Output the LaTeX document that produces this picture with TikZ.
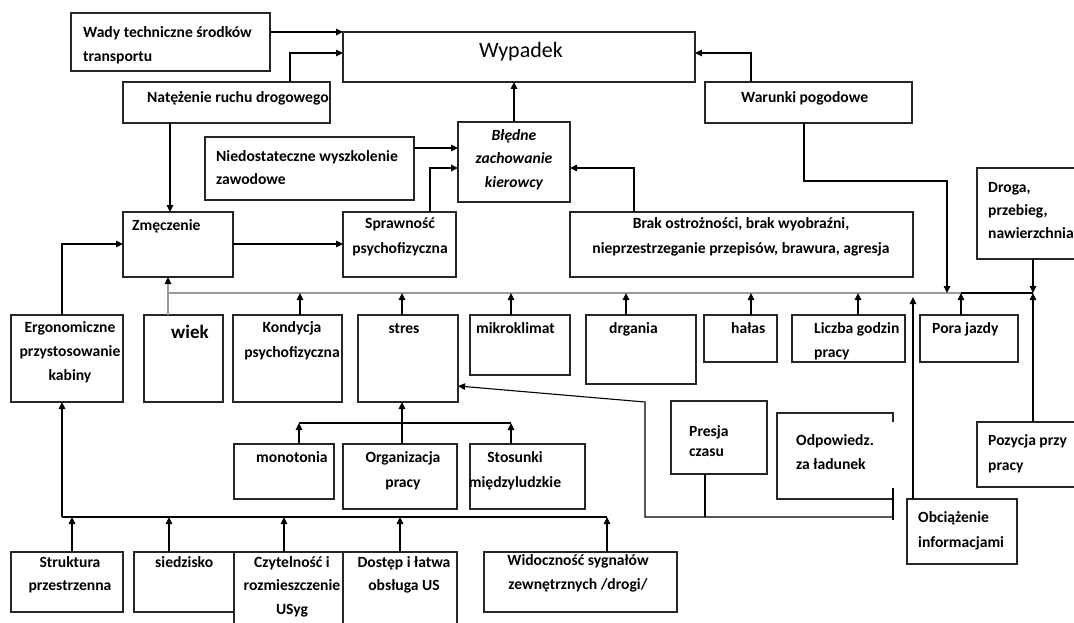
\documentclass[tikz,border=0pt]{standalone}
\usepackage{fontspec}
\setmainfont{Carlito}
\usetikzlibrary{arrows.meta}
\newcommand\tfont{\fontsize{15.6}{24}\selectfont\bfseries}
\newcommand\mkbox[5]{\node[box,minimum width=#4pt,minimum height=#5pt] (#1) at (#2,#3) {};}
\newcommand\mktxt[5]{\node[#2] (#1) at (#3,#4-17) {\rule{0pt}{17pt}#5};}
\tikzset{
  box/.style={draw=black!85, line width=1.1pt, anchor=north west, inner sep=0pt, outer sep=0pt},
  nobox/.style={draw=none, anchor=north west, inner sep=0pt, outer sep=0pt},
  arr/.style={line width=1.1pt, draw=black, -{Triangle[length=7pt,width=6.5pt,color=black]}},
  ln/.style={line width=1.1pt, draw=black},
  gln/.style={line width=1.6pt, draw=black!40},
  tl/.style={anchor=north west, inner sep=0pt, align=left, font=\tfont},
  tc/.style={anchor=north, inner sep=0pt, align=center, font=\tfont},
}
\begin{document}
\begin{tikzpicture}[x=1pt,y=-1pt]
\fill[white] (0,0) rectangle (1074,623);
\useasboundingbox (0,0) rectangle (1074,623);
% boxes
\mkbox{wady}{71}{13}{199}{58}
\mkbox{wyp}{343}{32}{352}{50}
\mkbox{nat}{123}{82}{207}{41}
\mkbox{war}{705}{82}{207}{41}
\mkbox{nied}{205}{137}{209}{63}
\mkbox{ble}{458}{122}{112}{80}
\mkbox{zm}{123}{212}{110}{65}
\mkbox{spr}{343}{212}{113}{65}
\mkbox{brak}{570}{212}{343}{65}
\mkbox{droga}{977}{168}{110}{91}
\mkbox{erg}{11}{315}{112}{87}
\mkbox{wiek}{144}{315}{79}{87}
\mkbox{kon}{233}{315}{109}{87}
\mkbox{stres}{358}{315}{100}{87}
\mkbox{mik}{470}{315}{100}{60}
\mkbox{drg}{586}{315}{110}{69}
\mkbox{hal}{704}{315}{73}{47}
\mkbox{lic}{792}{315}{113}{47}
\mkbox{pora}{920}{315}{98}{47}
\mkbox{mono}{234}{444}{100}{55}
\mkbox{org}{343}{444}{114}{65}
\mkbox{stos}{470}{444}{115}{65}
\mkbox{pre}{671}{401}{96}{73}
\node[nobox,minimum width=116pt,minimum height=86pt] (odp) at (777,413) {};
\mkbox{poz}{977}{422}{110}{65}
\mkbox{obc}{907}{499}{110}{65}
\mkbox{str}{11}{552}{112}{60}
\mkbox{sied}{134}{552}{100}{60}
\mkbox{czy}{234}{552}{109}{80}
\mkbox{dos}{343}{552}{114}{80}
\mkbox{wid}{484}{552}{193}{60}
% partial outline of odp
\draw[line width=1.1pt, draw=black!85] ([yshift=-9pt]odp.north east) -- (odp.north east) -- (odp.north west) -- (odp.south west) -- (odp.south east);
% texts
\mktxt{twady}{tl}{83}{37}{Wady techniczne środków\\transportu}
\mktxt{twyp}{tc,font=\fontsize{22}{26}\selectfont}{521}{57}{Wypadek}
\mktxt{tnat}{tl}{147}{102}{Natężenie ruchu drogowego}
\mktxt{twar}{tl}{741}{102}{Warunki pogodowe}
\mktxt{tnied}{tl,font=\fontsize{15.6}{23}\selectfont\bfseries}{216}{161}{Niedostateczne wyszkolenie\\zawodowe}
\mktxt{tble}{tc,font=\fontsize{15.6}{23.5}\selectfont\bfseries\itshape}{514}{140}{Błędne\\zachowanie\\kierowcy}
\mktxt{tzm}{tl}{132}{230}{Zmęczenie}
\mktxt{tspr}{tc,font=\fontsize{15.6}{25}\selectfont\bfseries}{400}{228}{Sprawność\\psychofizyczna}
\mktxt{tbrak}{tc,font=\fontsize{15.6}{25}\selectfont\bfseries}{741}{228}{Brak ostrożności, brak wyobraźni,\\nieprzestrzeganie przepisów, brawura, agresja}
\mktxt{tdroga}{tl,font=\fontsize{15.6}{23}\selectfont\bfseries}{988}{192}{Droga,\\przebieg,\\nawierzchnia}
\mktxt{terg}{tc}{70}{332}{Ergonomiczne\\przystosowanie\\kabiny}
\mktxt{twiek}{tl,font=\fontsize{19}{24}\selectfont\bfseries}{171}{338}{wiek}
\mktxt{tkon}{tc,font=\fontsize{15.6}{25}\selectfont\bfseries}{292}{332}{Kondycja\\psychofizyczna}
\mktxt{tstres}{tc}{404}{333}{stres}
\mktxt{tmik}{tl}{476}{333}{mikroklimat}
\mktxt{tdrg}{tl}{609}{333}{drgania}
\mktxt{thal}{tl}{731}{333}{hałas}
\mktxt{tlic}{tl}{814}{333}{Liczba godzin\\pracy}
\mktxt{tpora}{tl}{932}{333}{Pora jazdy}
\mktxt{tmono}{tl}{256}{462}{monotonia}
\mktxt{torg}{tc,font=\fontsize{15.6}{25}\selectfont\bfseries}{403}{462}{Organizacja\\pracy}
\mktxt{tstos}{tc,font=\fontsize{15.6}{25}\selectfont\bfseries}{515}{462}{Stosunki\\międzyludzkie}
\mktxt{tpre}{tl,font=\fontsize{15.6}{20}\selectfont\bfseries}{689}{436}{Presja\\czasu}
\mktxt{todp}{tl}{796}{445}{Odpowiedz.\\za ładunek}
\mktxt{tpoz}{tl,font=\fontsize{15.6}{25}\selectfont\bfseries}{988}{445}{Pozycja przy\\pracy}
\mktxt{tobc}{tl,font=\fontsize{15.6}{25}\selectfont\bfseries}{918}{522}{Obciążenie\\informacjami}
\mktxt{tstr}{tc,font=\fontsize{15.6}{23}\selectfont\bfseries}{70}{567}{Struktura\\przestrzenna}
\mktxt{tsied}{tl}{155}{567}{siedzisko}
\mktxt{tczy}{tc,font=\fontsize{15.6}{23.5}\selectfont\bfseries}{292}{567}{Czytelność i\\rozmieszczenie\\USyg}
\mktxt{tdos}{tc,font=\fontsize{15.6}{23}\selectfont\bfseries}{404}{567}{Dostęp i łatwa\\obsługa US}
\mktxt{twid}{tc}{578}{565}{Widoczność sygnałów\\zewnętrznych /drogi/}
% upper connectors
\draw[arr] (wady.east |- 0,32) -- (wyp.west |- 0,32);
\draw[arr] (nat.north -| 290,0) |- (wyp.west |- 0,53);
\draw[arr] (war.north -| 751,0) |- (wyp.east |- 0,53);
\draw[arr] (ble.north) -- (ble.north |- wyp.south);
\draw[arr] (nied.east |- 0,148) -- (ble.west |- 0,148);
\draw[arr] (spr.north -| 430,0) |- (ble.west |- 0,168);
\draw[arr] (brak.north -| 634,0) |- (ble.east |- 0,168);
\draw[arr] (nat.south -| 170,0) -- (zm.north -| 170,0);
\draw[arr] (zm.east |- 0,244) -- (spr.west |- 0,244);
\draw[arr] (erg.north -| 62,0) |- (zm.west |- 0,244);
% grey bus
\coordinate (gl) at (168,293);
\coordinate (gm) at (961,293);
\coordinate (gr) at (1033,293);
\coordinate (ob) at (913,297);
\draw[gln] (gl) -- (gm);
\draw[ln] (gm) -- (gr);
\draw[gln,-{Triangle[length=7pt,width=6.5pt,color=black]}] (wiek.north -| gl) -- (zm.south -| gl);
\foreach \n/\x in {kon/300, stres/402, mik/511, drg/626, hal/751, lic/858, pora/961}
  \draw[arr] (\n.north -| \x,0) -- (gl -| \x,0);
\draw[arr] (obc.north -| ob) -- (ob);
\draw[arr] (war.south -| 804,0) |- (947,181) -- (gl -| 947,0);
\draw[arr] (droga.south -| gr) -- (gr);
\draw[arr] (poz.north -| gr) -- (gr);
% stres sub-tree
\coordinate (sl) at (299,423);
\coordinate (sr) at (511,423);
\draw[ln] (sl) -- (sr);
\draw[arr] (mono.north -| sl) -- (sl);
\draw[arr] (stos.north -| sr) -- (sr);
\draw[arr] (org.north -| 402,0) -- (stres.south -| 402,0);
% loop to stres
\coordinate (lp) at (645,517);
\coordinate (lq) at (893,517);
\draw[arr] (lq) -- (lp) -- (645,402) -- (stres.east |- 0,386);
\draw[ln] (pre.south -| 705,0) -- (lp -| 705,0);
\draw[ln] ([yshift=11pt]odp.south east) -- ([yshift=-3pt]lq);
% bottom bus
\coordinate (bl) at (62,517);
\coordinate (br) at (607,517);
\draw[ln] (bl) -- (br);
\draw[arr] (bl) -- (erg.south -| bl);
\foreach \n/\x in {str/72, sied/169, czy/284, dos/400, wid/607}
  \draw[arr] (\n.north -| \x,0) -- (bl -| \x,0);
\end{tikzpicture}
\end{document}
